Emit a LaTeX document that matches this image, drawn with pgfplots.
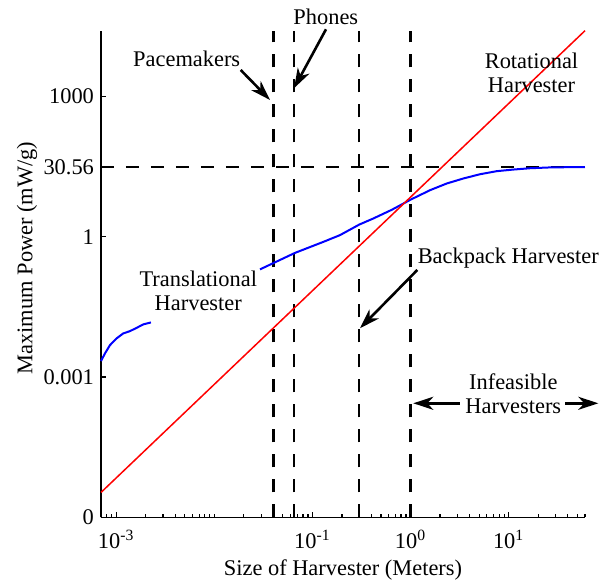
\documentclass[border=0pt]{standalone}
\usepackage{fontspec}
\setmainfont{Liberation Serif}
\usepackage{pgfplots}
\pgfplotsset{compat=1.18}
\usetikzlibrary{arrows.meta}
\begin{document}
\begin{tikzpicture}[font=\fontsize{11.2}{12}\selectfont]
\begin{axis}[
  scale only axis, width=242pt, height=243.4pt,
  xmode=log, ymode=log,
  xmin=7e-4, xmax=60, ymin=1e-6, ymax=25200,
  axis x line*=bottom, axis y line*=left,
  axis line style={line width=0.65pt, black},
  tick align=inside,
  major tick length=2.6pt, minor tick length=1.6pt,
  every tick/.style={line width=0.6pt, black},
  xtick={1e-3,1e-1,1,10},
  xticklabels={10\textsuperscript{-3},10\textsuperscript{-1},10\textsuperscript{0},10\textsuperscript{1}},
  minor xtick={7e-4,8e-4,9e-4,2e-3,3e-3,4e-3,5e-3,6e-3,7e-3,8e-3,9e-3,1e-2,2e-2,3e-2,4e-2,5e-2,6e-2,7e-2,8e-2,9e-2,0.2,0.3,0.4,0.5,0.6,0.7,0.8,0.9,2,3,4,5,6,7,8,9,20,30,40,50,60},
  ytick={1e-6,1e-3,1,30.56,1000},
  yticklabels={0,0.001,1,30.56,1000},
  minor ytick={},
  xticklabel style={yshift=-3pt},
  xlabel={Size of Harvester (Meters)},
  ylabel={Maximum Power (mW/g)},
  xlabel style={at={(axis description cs:0.5,-0.108)}, anchor=center},
  ylabel style={at={(axis description cs:-0.153,0.533)}, anchor=center},
  clip=false,
]
% dashed reference lines
\addplot[black, line width=1.25pt, dash pattern=on 6.5pt off 6pt] coordinates {(0.04,1e-6) (0.04,25200)};
\addplot[black, line width=1.25pt, dash pattern=on 6.5pt off 6pt] coordinates {(0.065,1e-6) (0.065,25200)};
\addplot[black, line width=1.25pt, dash pattern=on 6.5pt off 6pt] coordinates {(0.3,1e-6) (0.3,25200)};
\addplot[black, line width=1.25pt, dash pattern=on 6.5pt off 6pt] coordinates {(1,1e-6) (1,25200)};
\addplot[black, line width=1.25pt, dash pattern=on 6.5pt off 6pt] coordinates {(7e-4,30.56) (60,30.56)};
% translational harvester (blue)
\addplot[blue, line width=1pt] coordinates {
(7.0e-4,2.20e-3) (7.69e-4,3.21e-3) (8.65e-4,4.83e-3) (1.01e-3,6.71e-3) (1.18e-3,8.57e-3)
(1.38e-3,9.59e-3) (1.62e-3,1.13e-2) (1.89e-3,1.34e-2) (2.26e-3,1.47e-2)};
\addplot[blue, line width=1pt] coordinates {
(2.92e-2,0.200) (6.65e-2,0.451) (0.129,0.774) (0.191,1.08) (0.301,1.82) (0.418,2.45)
(0.648,3.78) (1.01,6.24) (1.58,9.84) (2.34,13.7) (3.45,17.5) (5.11,21.6) (7.56,25.1)
(11.2,27.2) (16.5,29.0) (28.6,30.4) (60,30.56)};
% rotational harvester (red)
\addplot[red, line width=0.75pt] coordinates {(7e-4,3.43e-6) (60,25200)};
% annotations
\node[anchor=center, inner sep=0] at (rel axis cs:0.1771,0.9429) {Pacemakers};
\node[anchor=center, inner sep=0] at (rel axis cs:0.4645,1.0288) {Phones};
\node[anchor=north, inner sep=0, align=center] at (rel axis cs:0.8895,0.9552) {Rotational\\Harvester};
\node[anchor=north, inner sep=0, align=center] at (rel axis cs:0.2010,0.5064) {Translational\\Harvester};
\node[anchor=north, inner sep=0] at (rel axis cs:0.8415,0.5536) {Backpack Harvester};
\node[anchor=north, inner sep=0, align=center] at (rel axis cs:0.8519,0.2968) {Infeasible\\Harvesters};
\draw[line width=1.3pt, -{Stealth[length=10pt,width=6.5pt,inset=3pt]}] (rel axis cs:0.2886,0.9193) -- (rel axis cs:0.3492,0.8577);
\draw[line width=1.3pt, -{Stealth[length=10pt,width=6.5pt,inset=3pt]}] (rel axis cs:0.4649,1.0029) -- (rel axis cs:0.3988,0.8818);
\draw[line width=1.3pt, -{Stealth[length=10pt,width=6.5pt,inset=3pt]}] (rel axis cs:0.6535,0.5084) -- (rel axis cs:0.5351,0.3887);
\draw[line width=1.3pt, -{Stealth[length=10pt,width=6.5pt,inset=3pt]}] (rel axis cs:0.7417,0.2346) -- (rel axis cs:0.6452,0.2346);
\draw[line width=1.3pt, -{Stealth[length=10pt,width=6.5pt,inset=3pt]}] (rel axis cs:0.9587,0.2346) -- (rel axis cs:1.0275,0.2346);
\end{axis}
\pgfresetboundingbox
\path ([shift={(-50.5pt,-34.75pt)}]current axis.south west) rectangle ([shift={(13pt,15.35pt)}]current axis.north east);
\end{tikzpicture}
\end{document}
